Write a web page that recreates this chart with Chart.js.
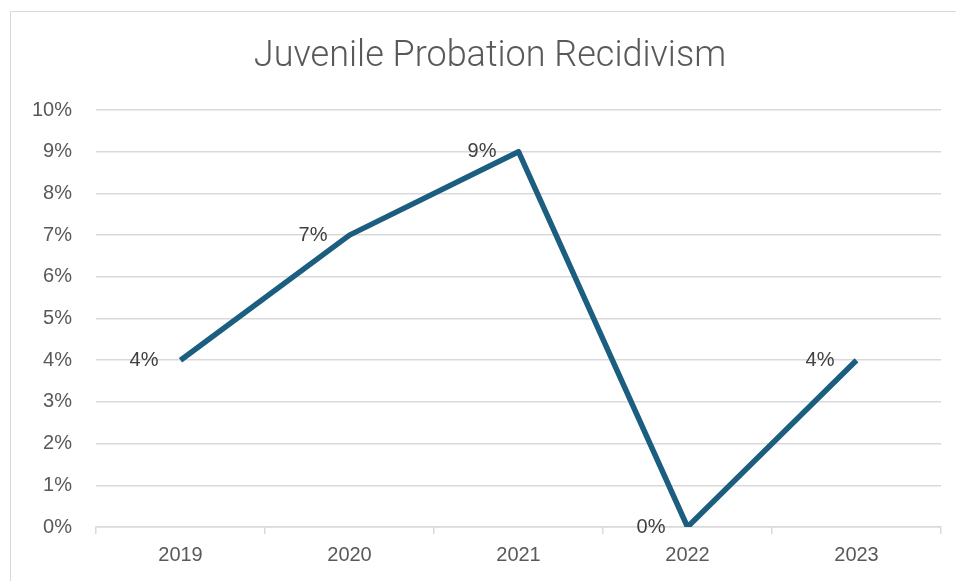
<!DOCTYPE html>
<html>
<head>
<meta charset="utf-8">
<script src="https://cdn.jsdelivr.net/npm/chart.js@4"></script>
<style>
  html, body { margin: 0; padding: 0; background: #fff; overflow: hidden; }
  #wrap { position: relative; width: 956px; height: 581px; }
  #frame { position: absolute; left: 10px; top: 11px; width: 1000px; height: 700px; border: 1.5px solid #d9d9d9; }
  canvas { position: absolute; left: 0; top: 0; }
</style>
</head>
<body>
<div id="wrap">
  <div id="frame"></div>
  <canvas id="recidivismChart" width="956" height="581"></canvas>
</div>
<script>
const chartTitle = "Juvenile Probation Recidivism";
const years = ["2019", "2020", "2021", "2022", "2023"];
const recidivism = [4, 7, 9, 0, 4];
const yTicks = [0, 1, 2, 3, 4, 5, 6, 7, 8, 9, 10];

// title centred on the frame, not on the canvas
const frameTitle = {
    id: "frameTitle",
    afterDraw(chart) {
        const ctx = chart.ctx;
        ctx.save();
        ctx.font = "300 36px Roboto";
        ctx.fillStyle = "#595959";
        ctx.textAlign = "center";
        ctx.textBaseline = "middle";
        ctx.fillText(chartTitle, 490, 57);
        ctx.restore();
    }
};

// labels drawn to the left of each point, like the original chart
const pointLabels = {
    id: "pointLabels",
    afterDatasetsDraw(chart) {
        const ctx = chart.ctx;
        const meta = chart.getDatasetMeta(0);
        ctx.save();
        ctx.font = "20px 'Liberation Sans', Arial, sans-serif";
        ctx.fillStyle = "#404040";
        ctx.textAlign = "right";
        ctx.textBaseline = "middle";
        meta.data.forEach((pt, i) => {
            ctx.fillText(recidivism[i] + "%", pt.x - 22, pt.y);
        });
        ctx.restore();
    }
};

document.addEventListener("DOMContentLoaded", function () {
    let ctx = document.getElementById("recidivismChart").getContext("2d");
    new Chart(ctx, {
        type: "line",
        data: {
            labels: years,
            datasets: [{
                label: "Recidivism",
                data: recidivism,
                borderColor: "#1b5e80",
                borderWidth: 5.5,
                borderJoinStyle: "round",
                pointRadius: 0,
                tension: 0,
                fill: false
            }]
        },
        options: {
            responsive: false,
            animation: false,
            layout: { padding: { left: 0, right: 15, top: 110, bottom: 5 } },
            plugins: {
                legend: { display: false },
                tooltip: { enabled: false },
                title: { display: false }
            },
            scales: {
                x: {
                    offset: true,
                    grid: {
                        offset: true,
                        drawOnChartArea: false,
                        drawTicks: true,
                        tickLength: 7,
                        color: "#d9d9d9",
                        lineWidth: 1.5
                    },
                    border: { color: "#d9d9d9", width: 1.5 },
                    ticks: {
                        color: "#595959",
                        padding: 9,
                        font: { family: "'Liberation Sans', Arial, sans-serif", size: 20 }
                    }
                },
                y: {
                    min: 0,
                    max: 10,
                    afterFit(scale) { scale.width = 96; },
                    afterBuildTicks(scale) { scale.ticks = yTicks.map(v => ({ value: v })); },
                    grid: { drawTicks: false, color: "#d9d9d9", lineWidth: 1.5 },
                    border: { display: false },
                    ticks: {
                        color: "#595959",
                        padding: 24,
                        font: { family: "'Liberation Sans', Arial, sans-serif", size: 20 },
                        callback: v => v + "%"
                    }
                }
            }
        },
        plugins: [pointLabels, frameTitle]
    });
});
</script>
</body>
</html>
